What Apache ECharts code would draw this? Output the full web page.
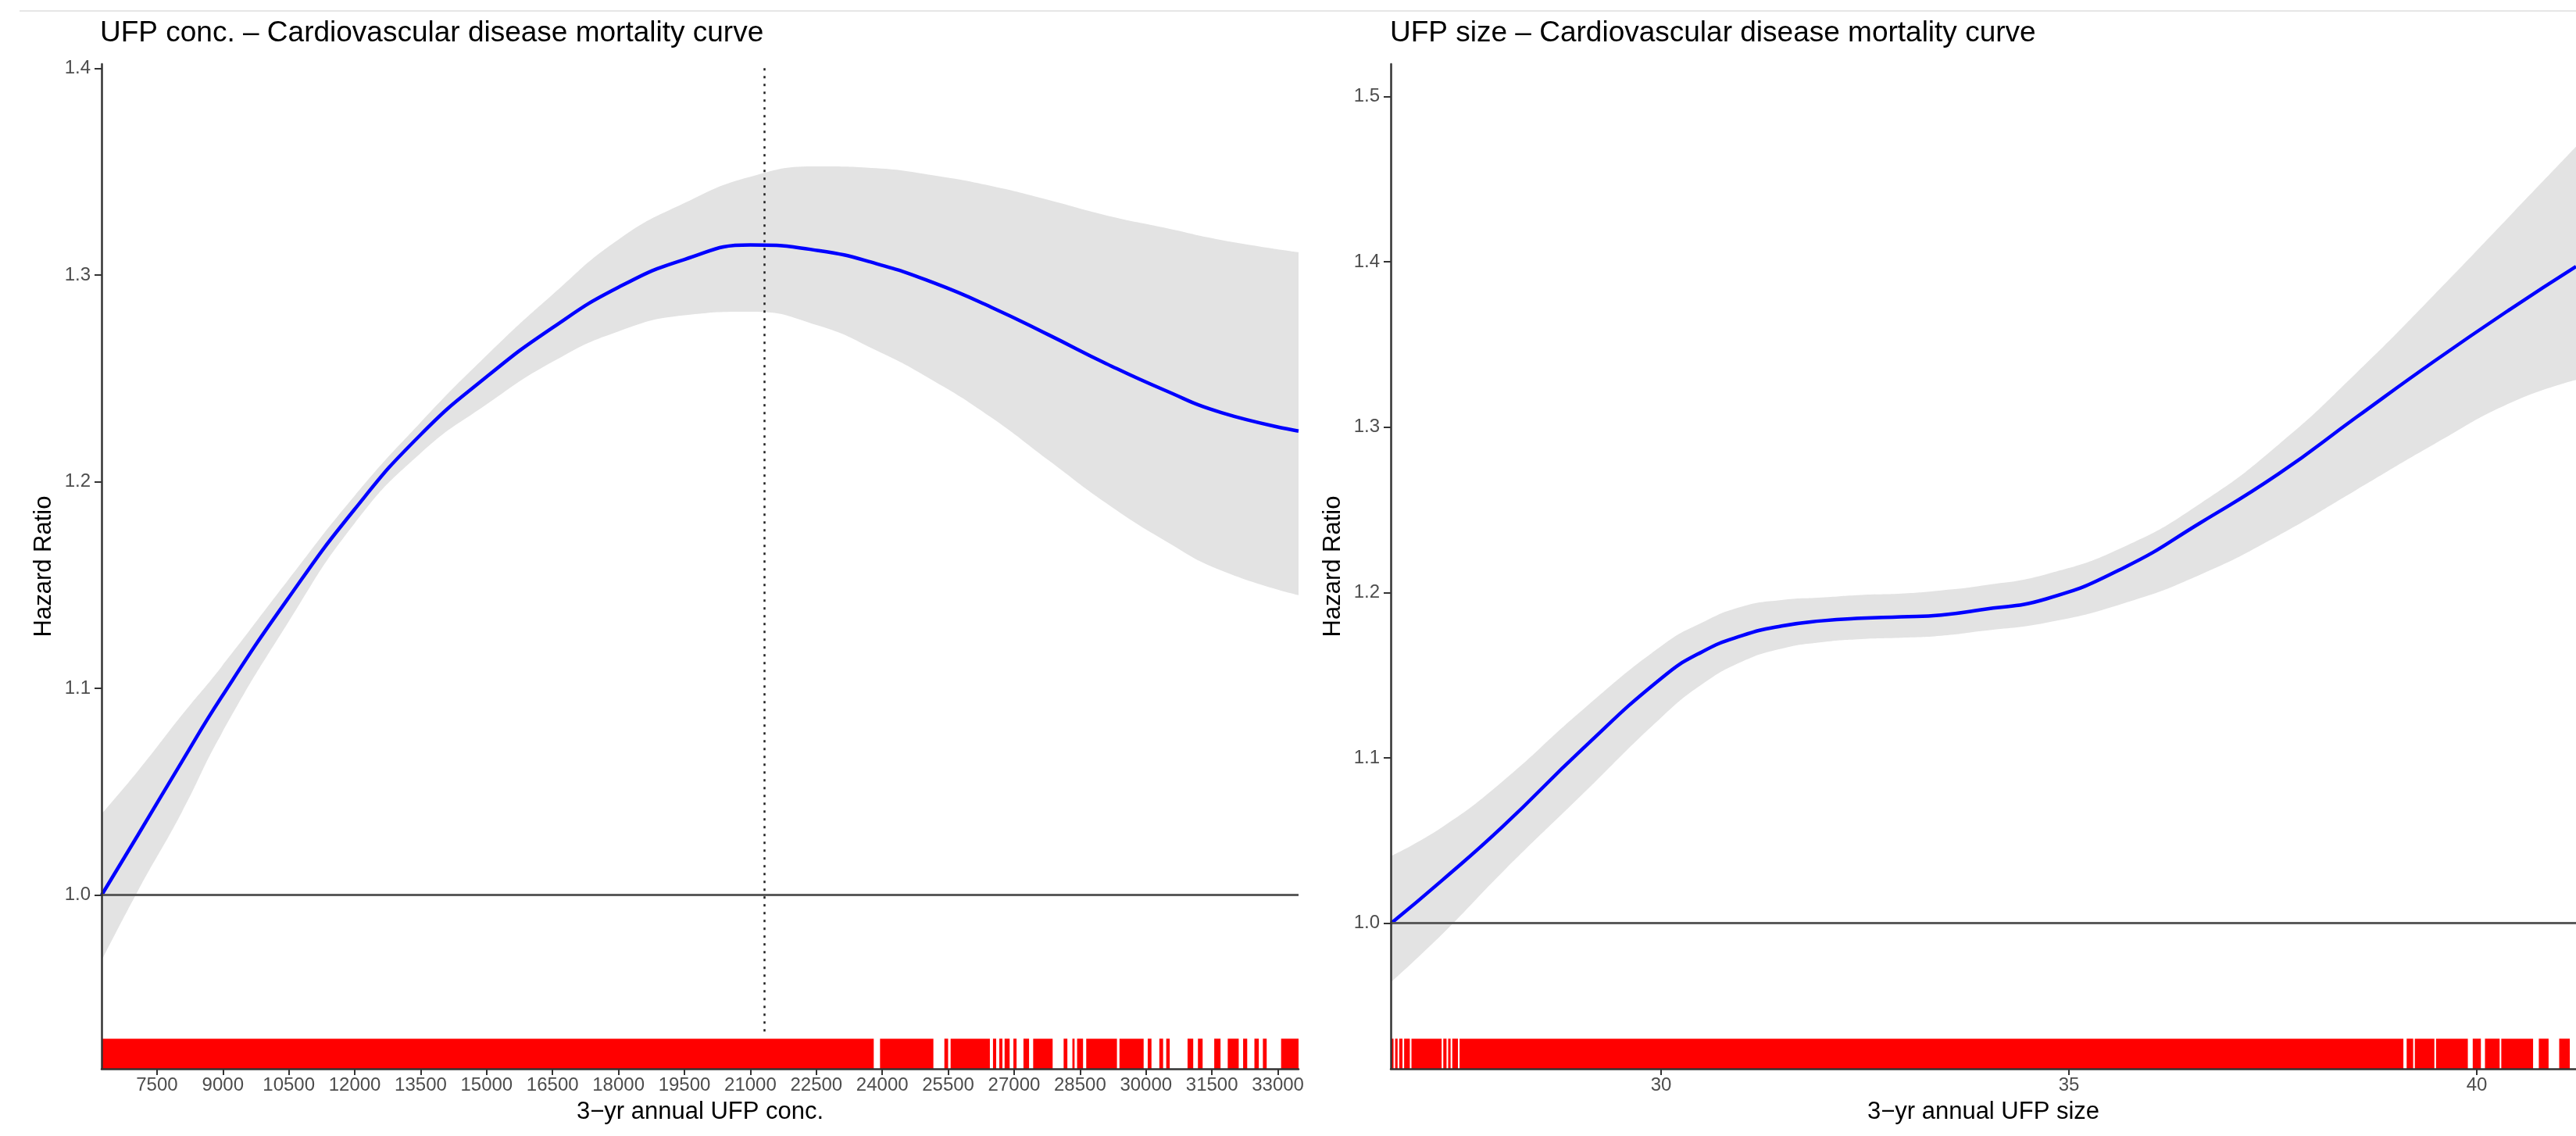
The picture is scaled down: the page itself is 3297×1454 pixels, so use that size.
<!DOCTYPE html>
<html>
<head>
<meta charset="utf-8">
<script src="https://cdn.jsdelivr.net/npm/echarts@6/dist/echarts.min.js"></script>
<style>
html,body{margin:0;padding:0;background:#ffffff;}
#chart{width:3297px;height:1454px;}
</style>
</head>
<body>
<div id="chart"></div>
<script>
// ---------- Panel 1: UFP concentration ----------
const concTitle = 'UFP conc. – Cardiovascular disease mortality curve';
const concXName = '3−yr annual UFP conc.';
const concX     = [6240, 7065, 8062, 8959, 10456, 11991, 13488, 14993, 16500, 17997, 19502, 21000, 22548, 23858, 25168, 26478, 27786, 29096, 30406, 31714, 33470];
const concHR    = [1.000, 1.029, 1.0644, 1.0955, 1.1427, 1.1865, 1.2225, 1.2506, 1.2745, 1.2940, 1.3075, 1.3145, 1.3118, 1.3055, 1.2962, 1.2844, 1.271, 1.2571, 1.2444, 1.2334, 1.2245];
const concUpper = [1.0393, 1.060, 1.087, 1.1102, 1.1516, 1.193, 1.2284, 1.2609, 1.2905, 1.3171, 1.3348, 1.3475, 1.3525, 1.3516, 1.3481, 1.343, 1.3362, 1.3288, 1.3229, 1.3169, 1.311];
const concLower = [0.9683, 1.002, 1.040, 1.0777, 1.1309, 1.1797, 1.2136, 1.2373, 1.258, 1.2727, 1.2805, 1.2822, 1.2755, 1.2636, 1.2488, 1.2311, 1.2103, 1.1896, 1.1718, 1.157, 1.1451];
const concRug   = [[6240, 23806], [23949, 25163], [25413, 25498], [25555, 26448], [26519, 26591], [26662, 26733], [26783, 26898], [26983, 27055], [27212, 27340], [27433, 27876], [28126, 28211], [28325, 28375], [28432, 28568], [28640, 29339], [29396, 29946], [30039, 30124], [30303, 30389], [30460, 30539], [30945, 31074], [31181, 31288], [31552, 31695], [31859, 32109], [32209, 32302], [32466, 32566], [32659, 32745], [33073, 33470]];
const concXTicks = [7500, 9000, 10500, 12000, 13500, 15000, 16500, 18000, 19500, 21000, 22500, 24000, 25500, 27000, 28500, 30000, 31500, 33000];
const concYTicks = [1.0, 1.1, 1.2, 1.3, 1.4];
const concXRange = [6240, 33470];
const concYRange = [0.916, 1.402];
const concVLineX = 21316;
const concVLineY = [0.934, 1.402];
const concRef = 1.0;

// ---------- Panel 2: UFP size ----------
const sizeTitle = 'UFP size – Cardiovascular disease mortality curve';
const sizeXName = '3−yr annual UFP size';
const sizeX     = [26.69, 27.323, 28.056, 29.034, 30.011, 30.5, 30.989, 31.477, 31.966, 32.454, 32.943, 33.432, 33.92, 34.723, 35.672, 36.622, 37.571, 38.52, 39.469, 40.42, 41.216];
const sizeHR    = [1.000, 1.0263, 1.0584, 1.1053, 1.1485, 1.1641, 1.1739, 1.1798, 1.1829, 1.1845, 1.1853, 1.1864, 1.1896, 1.1962, 1.215, 1.2425, 1.2718, 1.3059, 1.3396, 1.3717, 1.3972];
const sizeUpper = [1.0407, 1.0584, 1.0858, 1.1289, 1.168, 1.1818, 1.1915, 1.1955, 1.197, 1.1986, 1.1994, 1.2013, 1.2041, 1.2111, 1.2276, 1.2542, 1.2895, 1.3326, 1.3796, 1.4285, 1.4696];
const sizeLower = [0.9644, 0.9937, 1.0309, 1.0779, 1.1249, 1.1445, 1.1582, 1.1661, 1.17, 1.1719, 1.1727, 1.1739, 1.1767, 1.1818, 1.1935, 1.2111, 1.2346, 1.262, 1.2895, 1.3149, 1.3286];
const sizeRug   = [[26.69, 26.72], [26.74, 26.77], [26.79, 26.83], [26.85, 26.92], [26.94, 27.31], [27.33, 27.37], [27.39, 27.42], [27.44, 27.51], [27.53, 39.10], [39.14, 39.22], [39.24, 39.48], [39.50, 39.89], [39.95, 40.05], [40.10, 40.28], [40.30, 40.69], [40.76, 40.88], [41.01, 41.14]];
const sizeXTicks = [30, 35, 40];
const sizeYTicks = [1.0, 1.1, 1.2, 1.3, 1.4, 1.5];
const sizeXRange = [26.686, 41.216];
const sizeYRange = [0.912, 1.5196];
const sizeRef = 1.0;

// ---------- build ----------
const FONT = '"Liberation Sans", Arial, Helvetica, sans-serif';
const chart = echarts.init(document.getElementById('chart'), null, {renderer: 'canvas'});

function pairs(xs, ys) { return xs.map((x, i) => [x, ys[i]]); }

function rugRender(params, api) {
  const cs = params.coordSys;
  const a = api.coord([api.value(0), api.value(1)]);
  const b = api.coord([api.value(2), api.value(1)]);
  const h = cs.height * 0.03;
  const x0 = Math.min(a[0], b[0]);
  const w = Math.max(Math.abs(b[0] - a[0]), 2);
  return {
    type: 'rect',
    shape: {x: x0, y: cs.y + cs.height - h, width: w, height: h},
    style: {fill: '#ff0000'}
  };
}

function xAxisCfg(gi, range, ticks, name) {
  return {
    gridIndex: gi, type: 'value', min: range[0], max: range[1], z: 10,
    axisLine: {show: true, onZero: false, lineStyle: {color: '#333333', width: 2.5}},
    axisTick: {show: true, length: 8, customValues: ticks, lineStyle: {color: '#333333', width: 2}},
    axisLabel: {customValues: ticks, formatter: v => String(v), margin: 9, fontSize: 24, color: '#4d4d4d', fontFamily: FONT},
    splitLine: {show: false},
    name: name, nameLocation: 'middle', nameGap: 40,
    nameTextStyle: {fontSize: 31, color: '#000000', fontFamily: FONT}
  };
}
function yAxisCfg(gi, range, ticks) {
  return {
    gridIndex: gi, type: 'value', min: range[0], max: range[1], z: 10,
    axisLine: {show: true, onZero: false, lineStyle: {color: '#333333', width: 2.5}},
    axisTick: {show: true, length: 9, customValues: ticks, lineStyle: {color: '#333333', width: 2}},
    axisLabel: {customValues: ticks, formatter: v => v.toFixed(1), margin: 14, fontSize: 24, color: '#4d4d4d', fontFamily: FONT},
    splitLine: {show: false},
    name: 'Hazard Ratio', nameLocation: 'middle', nameGap: 58, nameRotate: 90,
    nameTextStyle: {fontSize: 31, color: '#000000', fontFamily: FONT}
  };
}

const SMOOTH = {smooth: 0.5};

function panelSeries(gi, xs, hr, up, lo, rug, yMin, ref, vline) {
  const out = [];
  // confidence band: grey area under the upper bound, white area under the lower bound
  out.push(Object.assign({
    type: 'line', xAxisIndex: gi, yAxisIndex: gi,
    data: pairs(xs, up), symbol: 'none', silent: true,
    lineStyle: {opacity: 0}, areaStyle: {color: '#e3e3e3', opacity: 1, origin: 'start'}, z: 1
  }, SMOOTH));
  out.push(Object.assign({
    type: 'line', xAxisIndex: gi, yAxisIndex: gi,
    data: pairs(xs, lo), symbol: 'none', silent: true,
    lineStyle: {opacity: 0}, areaStyle: {color: '#ffffff', opacity: 1, origin: 'start'}, z: 2
  }, SMOOTH));
  const refLines = [{yAxis: ref, lineStyle: {color: '#5a5a5a', width: 3, type: 'solid'}}];
  if (vline) {
    refLines.push([
      {coord: [vline.x, vline.y[0]], lineStyle: {color: '#222222', width: 2.5, type: [3, 7]}},
      {coord: [vline.x, vline.y[1]]}
    ]);
  }
  out.push({
    type: 'line', xAxisIndex: gi, yAxisIndex: gi, data: [], silent: true, z: 3,
    markLine: {symbol: 'none', silent: true, label: {show: false}, animation: false, data: refLines}
  });
  out.push(Object.assign({
    type: 'line', xAxisIndex: gi, yAxisIndex: gi,
    data: pairs(xs, hr), symbol: 'none', silent: true,
    lineStyle: {color: '#0000ff', width: 4.5}, z: 4
  }, SMOOTH));
  out.push({
    type: 'custom', xAxisIndex: gi, yAxisIndex: gi, silent: true, z: 5,
    data: rug.map(r => [r[0], yMin, r[1]]),
    encode: {x: [0, 2], y: 1},
    renderItem: rugRender
  });
  return out;
}

const option = {
  animation: false,
  backgroundColor: '#ffffff',
  title: [
    {text: concTitle, left: 128, top: 24, padding: 0, textStyle: {fontSize: 37, fontWeight: 'normal', color: '#000000', fontFamily: FONT}},
    {text: sizeTitle, left: 1779, top: 24, padding: 0, textStyle: {fontSize: 37, fontWeight: 'normal', color: '#000000', fontFamily: FONT}}
  ],
  graphic: [
    {type: 'line', shape: {x1: 25, y1: 14, x2: 3297, y2: 14}, style: {stroke: '#e6e6e6', lineWidth: 2}, silent: true}
  ],
  grid: [
    {left: 130, top: 82, width: 1532, height: 1286},
    {left: 1780, top: 82, width: 1517, height: 1286}
  ],
  xAxis: [
    xAxisCfg(0, concXRange, concXTicks, concXName),
    xAxisCfg(1, sizeXRange, sizeXTicks, sizeXName)
  ],
  yAxis: [
    yAxisCfg(0, concYRange, concYTicks),
    yAxisCfg(1, sizeYRange, sizeYTicks)
  ],
  series: [].concat(
    panelSeries(0, concX, concHR, concUpper, concLower, concRug, concYRange[0], concRef, {x: concVLineX, y: concVLineY}),
    panelSeries(1, sizeX, sizeHR, sizeUpper, sizeLower, sizeRug, sizeYRange[0], sizeRef, null)
  )
};
chart.setOption(option);
</script>
</body>
</html>
